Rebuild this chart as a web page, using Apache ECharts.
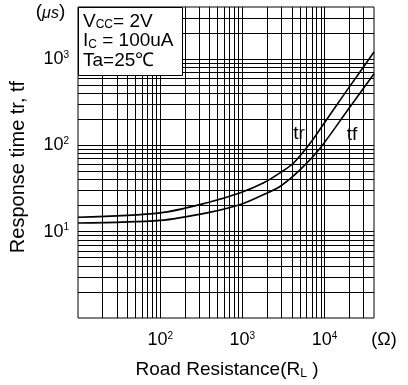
<!DOCTYPE html>
<html>
<head>
<meta charset="utf-8">
<script src="https://cdn.jsdelivr.net/npm/echarts@6/dist/echarts.min.js"></script>
<style>
  html, body { margin: 0; padding: 0; background: #fff; }
  #chart { width: 408px; height: 385px; }
</style>
</head>
<body>
<div id="chart"></div>
<script>
// Load resistance R_L (Ω) and switching times (μs)
const trLoad = [10, 100, 372, 946, 1820, 2900, 4230, 6750, 9800, 18000, 40000];
const trTime = [14.7, 16.5, 21.6, 28.2, 36.8, 48.2, 62.9, 107, 178, 410, 1203];
const tfLoad = [10, 100, 372, 946, 1820, 2900, 5100, 8930, 18900, 40000];
const tfTime = [12.6, 13.5, 16.5, 20.6, 26.9, 33.6, 52.6, 94, 251, 675];

// Axis ranges and labelled decades
const xRange = [10, 40000];
const yRange = [1, 4000];
const xTickLabels = [100, 1000, 10000];
const yTickLabels = [10, 100, 1000];

// Log-paper grid: every 1..9 multiple inside each decade
const mantissas = [1, 2, 3, 4, 5, 6, 7, 8, 9];
function gridValues(lo, hi) {
  const out = [];
  for (let d = lo; d < hi; d *= 10) {
    for (const m of mantissas) {
      const v = m * d;
      if (v > lo && v < hi) out.push(v);
    }
  }
  return out;
}
const xGridLines = gridValues(xRange[0], xRange[1]);
const yGridLines = gridValues(yRange[0], yRange[1]);

function decadeLabel(list) {
  return function (v) {
    for (const t of list) {
      if (Math.abs(v - t) / t < 1e-6) {
        return '{b|10}{e|' + Math.round(Math.log10(t)) + '}';
      }
    }
    return '';
  };
}
const font = 'Liberation Sans';
const powRich = {
  b: { fontSize: 18, lineHeight: 18, fontFamily: font, color: '#000' },
  e: { fontSize: 10, lineHeight: 10, verticalAlign: 'top', fontFamily: font, color: '#000' }
};

const chart = echarts.init(document.getElementById('chart'), null, { renderer: 'canvas' });

chart.setOption({
  animation: false,
  backgroundColor: '#fff',
  grid: {
    left: 78, top: 7, width: 296, height: 311,
    show: true, borderColor: '#000', borderWidth: 1, backgroundColor: 'transparent'
  },
  xAxis: {
    type: 'log', logBase: 10, min: xRange[0], max: xRange[1],
    axisLine: { show: false }, axisTick: { show: false }, splitLine: { show: false },
    axisLabel: {
      formatter: decadeLabel(xTickLabels), rich: powRich, margin: 13,
      hideOverlap: false, showMinLabel: true, showMaxLabel: true
    }
  },
  yAxis: {
    type: 'log', logBase: 10, min: yRange[0], max: yRange[1],
    axisLine: { show: false }, axisTick: { show: false }, splitLine: { show: false },
    axisLabel: {
      formatter: decadeLabel(yTickLabels), rich: powRich, margin: 9,
      hideOverlap: false, showMinLabel: true, showMaxLabel: true
    }
  },
  series: [
    {
      name: 'grid', type: 'line', data: [], silent: true,
      markLine: {
        silent: true, symbol: ['none', 'none'], animation: false,
        label: { show: false },
        lineStyle: { color: '#000', width: 1, type: 'solid' },
        emphasis: { disabled: true },
        data: xGridLines.map(v => ({ xAxis: v })).concat(yGridLines.map(v => ({ yAxis: v })))
      }
    },
    {
      name: 'tr', type: 'line', showSymbol: false, smooth: 0.3, z: 5,
      lineStyle: { color: '#000', width: 1.6 },
      data: trLoad.map((x, i) => [x, trTime[i]])
    },
    {
      name: 'tf', type: 'line', showSymbol: false, smooth: 0.3, z: 5,
      lineStyle: { color: '#000', width: 1.6 },
      data: tfLoad.map((x, i) => [x, tfTime[i]])
    }
  ],
  graphic: [
    {
      type: 'rect', left: 78, top: 7, z: 100,
      shape: { width: 104, height: 68 },
      style: { fill: '#fff', stroke: '#000', lineWidth: 1 }
    },
    {
      type: 'text', x: 83, y: 21.5, z: 101,
      style: {
        text: '{v|V}{s|CC}{v|= 2V}', textVerticalAlign: 'middle',
        rich: {
          v: { fontSize: 19, lineHeight: 19, verticalAlign: 'bottom', fontFamily: font, fill: '#000' },
          s: { fontSize: 12, lineHeight: 15, verticalAlign: 'bottom', fontFamily: font, fill: '#000' }
        }
      }
    },
    {
      type: 'text', x: 83, y: 41, z: 101,
      style: {
        text: '{v|I}{s|C}{v| = 100uA}', textVerticalAlign: 'middle',
        rich: {
          v: { fontSize: 19, lineHeight: 19, verticalAlign: 'bottom', fontFamily: font, fill: '#000' },
          s: { fontSize: 12, lineHeight: 15, verticalAlign: 'bottom', fontFamily: font, fill: '#000' }
        }
      }
    },
    {
      type: 'text', x: 83, y: 61, z: 101,
      style: { text: 'Ta=25℃', fontSize: 19, fontFamily: font, fill: '#000', textVerticalAlign: 'middle' }
    },
    {
      type: 'text', x: 299, y: 134, z: 101,
      style: { text: 'tr', fontSize: 19, fontFamily: font, fill: '#000', textAlign: 'center', textVerticalAlign: 'middle' }
    },
    {
      type: 'text', x: 352, y: 135, z: 101,
      style: { text: 'tf', fontSize: 19, fontFamily: font, fill: '#000', textAlign: 'center', textVerticalAlign: 'middle' }
    },
    {
      type: 'text', x: 50.5, y: 12, z: 101,
      style: {
        text: '{p|(}{u|μs}{p|)}', textAlign: 'center', textVerticalAlign: 'middle',
        rich: {
          p: { fontSize: 19, lineHeight: 19, verticalAlign: 'bottom', fontFamily: font, fill: '#000' },
          u: { fontSize: 16, lineHeight: 17, verticalAlign: 'bottom', fontStyle: 'italic', fontFamily: font, fill: '#000' }
        }
      }
    },
    {
      type: 'text', x: 384, y: 340, z: 101,
      style: { text: '(Ω)', fontSize: 18, fontFamily: font, fill: '#000', textAlign: 'center', textVerticalAlign: 'middle' }
    },
    {
      type: 'text', x: 18, y: 167, z: 101, rotation: Math.PI / 2,
      style: { text: 'Response time tr, tf', fontSize: 20, fontFamily: font, fill: '#000', textAlign: 'center', textVerticalAlign: 'middle' }
    },
    {
      type: 'text', x: 227, y: 370, z: 101,
      style: {
        text: '{v|Road Resistance(R}{s|L}{v| )}', textAlign: 'center', textVerticalAlign: 'middle',
        rich: {
          v: { fontSize: 19, lineHeight: 19, verticalAlign: 'bottom', fontFamily: font, fill: '#000' },
          s: { fontSize: 12, lineHeight: 15, verticalAlign: 'bottom', fontFamily: font, fill: '#000' }
        }
      }
    }
  ]
});
</script>
</body>
</html>
